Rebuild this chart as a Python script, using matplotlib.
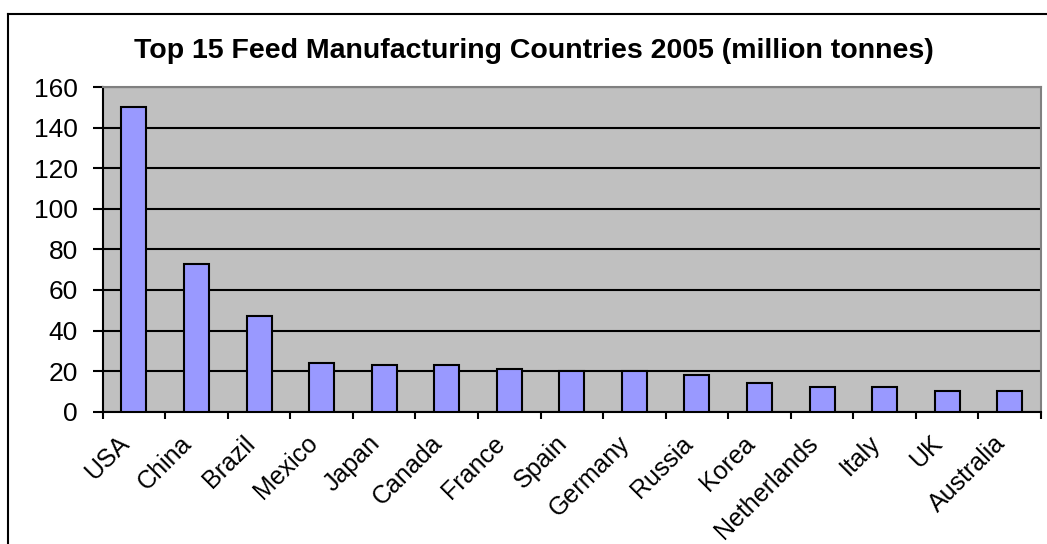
import numpy as np
import matplotlib.pyplot as plt
from matplotlib.lines import Line2D
from matplotlib.transforms import ScaledTranslation

# data
countries = ['USA', 'China', 'Brazil', 'Mexico', 'Japan', 'Canada', 'France', 'Spain',
             'Germany', 'Russia', 'Korea', 'Netherlands', 'Italy', 'UK', 'Australia']
feed = [150, 73, 47, 24, 23, 23, 21, 20, 20, 18, 14, 12, 12, 10, 10]
yticks = [0, 20, 40, 60, 80, 100, 120, 140, 160]
title = 'Top 15 Feed Manufacturing Countries 2005 (million tonnes)'

plt.rcParams['font.family'] = ['Liberation Sans', 'DejaVu Sans']

W, H = 1047, 544
fig = plt.figure(figsize=(W / 100, H / 100), dpi=100)
ax = fig.add_axes([102.7 / W, 1 - 411.7 / H, (1041 - 102.7) / W, (411.7 - 87) / H])

x = np.arange(len(countries))
ax.bar(x, feed, width=0.4, color='#9999ff', edgecolor='black', linewidth=1.5, zorder=3)

ax.set_facecolor('#c0c0c0')
ax.set_xlim(-0.5, len(countries) - 0.5)
ax.set_ylim(0, 160)
ax.set_yticks(yticks)
ax.set_yticklabels([str(v) for v in yticks], fontsize=19)
ax.yaxis.grid(True, color='black', linewidth=1.5)
ax.set_axisbelow(True)

# category boundaries get the tick marks, centres get the labels
ax.set_xticks(np.arange(len(countries) + 1) - 0.5)
ax.set_xticklabels([])
ax.set_xticks(x, minor=True)
ax.set_xticklabels(countries, minor=True, rotation=45, ha='right', va='top',
                   rotation_mode='anchor', fontsize=18)
ax.tick_params(axis='x', which='minor', length=0, pad=14)
ax.tick_params(axis='x', which='major', length=5, width=1.5, direction='out')
ax.tick_params(axis='y', length=7, width=1.5, pad=11)
shift = ScaledTranslation(-12 / 72, 0, fig.dpi_scale_trans)
for lab in ax.get_xticklabels(minor=True):
    lab.set_transform(lab.get_transform() + shift)

for s in ['left', 'bottom']:
    ax.spines[s].set_color('black')
    ax.spines[s].set_linewidth(1.5)
for s in ['top', 'right']:
    ax.spines[s].set_color('#808080')
    ax.spines[s].set_linewidth(1.5)

fig.text(534 / W, 1 - 51 / H, title, ha='center', va='center',
         fontsize=20.5, fontweight='bold')

# outer chart frame (cropped at right and bottom)
fig.add_artist(Line2D([8 / W, 1], [1 - 14 / H, 1 - 14 / H], color='black', linewidth=1.5,
                      transform=fig.transFigure))
fig.add_artist(Line2D([8 / W, 8 / W], [0, 1 - 14 / H], color='black', linewidth=1.5,
                      transform=fig.transFigure))

fig.savefig('out.png', dpi=100)
